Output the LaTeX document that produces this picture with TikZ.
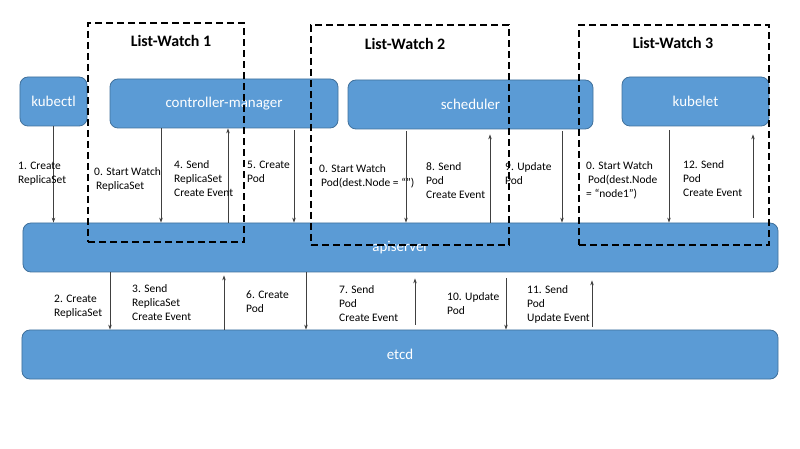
\documentclass[tikz,border=0pt]{standalone}
\usepackage{fontspec}
\setmainfont{Carlito}
\usetikzlibrary{arrows.meta}
\definecolor{boxfill}{HTML}{5B9BD5}
\definecolor{boxline}{HTML}{41719C}
\definecolor{arrowgray}{HTML}{404040}
\begin{document}
\begin{tikzpicture}[x=1bp,y=-1bp,
  blk/.style={draw=boxline, line width=0.8bp, fill=boxfill, rounded corners=8bp,
    text=white, font=\fontsize{15}{18}\selectfont, inner sep=0pt},
  lwbox/.style={draw=black, line width=1.8bp, dash pattern=on 7bp off 4bp, inner sep=0pt},
  lwtitle/.style={font=\fontsize{16}{19}\selectfont\bfseries, inner sep=0pt},
  arr/.style={draw=arrowgray, line width=0.7bp, -{Stealth[length=5bp,width=3.5bp]}},
  lbl/.style={anchor=north west, align=left, inner sep=0pt,
    font=\fontsize{11.5}{14}\selectfont}
]
\useasboundingbox (0,0) rectangle (800,449);
\fill[white] (0,0) rectangle (800,449);

% components
\node[blk, minimum width=67bp,  minimum height=49bp] (kubectl) at (53.5,101.5) {kubectl};
\node[blk, minimum width=228bp, minimum height=49bp] (cm)      at (224,103.5)  {controller-manager};
\node[blk, minimum width=245bp, minimum height=49bp] (sched)   at (470.5,104.5) {scheduler};
\node[blk, minimum width=147bp, minimum height=49bp] (kubelet) at (695.5,101.5) {kubelet};
\node[blk, minimum width=755bp, minimum height=49bp] (api)     at (400.5,247.5) {apiserver};
\node[blk, minimum width=756bp, minimum height=49bp] (etcd)    at (400,354.5)  {etcd};

% list-watch groups
\node[lwbox, minimum width=156bp, minimum height=219bp] (lw1) at (166,132.5) {};
\node[lwbox, minimum width=198bp, minimum height=220bp] (lw2) at (410,135) {};
\node[lwbox, minimum width=190bp, minimum height=220bp] (lw3) at (674,135) {};
\node[lwtitle] (lw1t) at (171,41) {List-Watch 1};
\node[lwtitle] (lw2t) at (405,44) {List-Watch 2};
\node[lwtitle] (lw3t) at (673,43) {List-Watch 3};

% upper connectors
\draw[arr] (kubectl.south) -- (api.north -| kubectl.south);
\draw[arr] (cm.south -| 161,0) -- (api.north -| 161,0);
\draw[arr] (api.north -| 228,0) -- (cm.south -| 228,0);
\draw[arr, shorten <=2bp] (cm.south -| 294,0) -- (api.north -| 294,0);
\draw[arr, shorten <=2bp] (sched.south -| 406,0) -- (api.north -| 406,0);
\draw[arr, shorten >=5bp] (api.north -| 490,0) -- (sched.south -| 490,0);
\draw[arr, shorten <=2bp] (sched.south -| 562,0) -- (api.north -| 562,0);
\draw[arr, shorten <=4bp] (kubelet.south -| 669,0) -- (api.north -| 669,0);
\draw[arr, shorten <=5bp, shorten >=8bp] (api.north -| 753,0) -- (kubelet.south -| 753,0);

% lower connectors
\draw[arr] (api.south -| 110,0) -- (etcd.north -| 110,0);
\draw[arr, shorten >=3bp] (etcd.north -| 224,0) -- (api.south -| 224,0);
\draw[arr] (api.south -| 306,0) -- (etcd.north -| 306,0);
\draw[arr, shorten <=5bp, shorten >=6bp] (etcd.north -| 415,0) -- (api.south -| 415,0);
\draw[arr, shorten <=6bp] (api.south -| 506,0) -- (etcd.north -| 506,0);
\draw[arr, shorten <=3bp, shorten >=8bp] (etcd.north -| 592,0) -- (api.south -| 592,0);

% upper labels
\node[lbl] (l1)  at (18,162)  {1. Create\\ReplicaSet};
\node[lbl] (l0a) at (94,167)  {0. Start Watch\\\hspace{2bp}ReplicaSet};
\node[lbl] (l4)  at (174,160) {4. Send\\ReplicaSet\\Create Event};
\node[lbl] (l5)  at (247,161) {5. Create\\Pod};
\node[lbl] (l0b) at (319,164) {0. Start Watch\\\hspace{2bp}Pod(dest.Node = “”)};
\node[lbl] (l8)  at (426,162) {8. Send\\Pod\\Create Event};
\node[lbl] (l9)  at (505,162) {9. Update\\Pod};
\node[lbl] (l0c) at (586,161) {0. Start Watch\\\hspace{2bp}Pod(dest.Node\\= “node1”)};
\node[lbl] (l12) at (683,160) {12. Send\\Pod\\Create Event};

% lower labels
\node[lbl] (l2)  at (54,295)  {2. Create\\ReplicaSet};
\node[lbl] (l3)  at (132,284) {3. Send\\ReplicaSet\\Create Event};
\node[lbl] (l6)  at (246,291) {6. Create\\Pod};
\node[lbl] (l7)  at (339,285) {7. Send\\Pod\\Create Event};
\node[lbl] (l10) at (447,292) {10. Update\\Pod};
\node[lbl] (l11) at (527,285) {11. Send\\Pod\\Update Event};
\end{tikzpicture}
\end{document}
